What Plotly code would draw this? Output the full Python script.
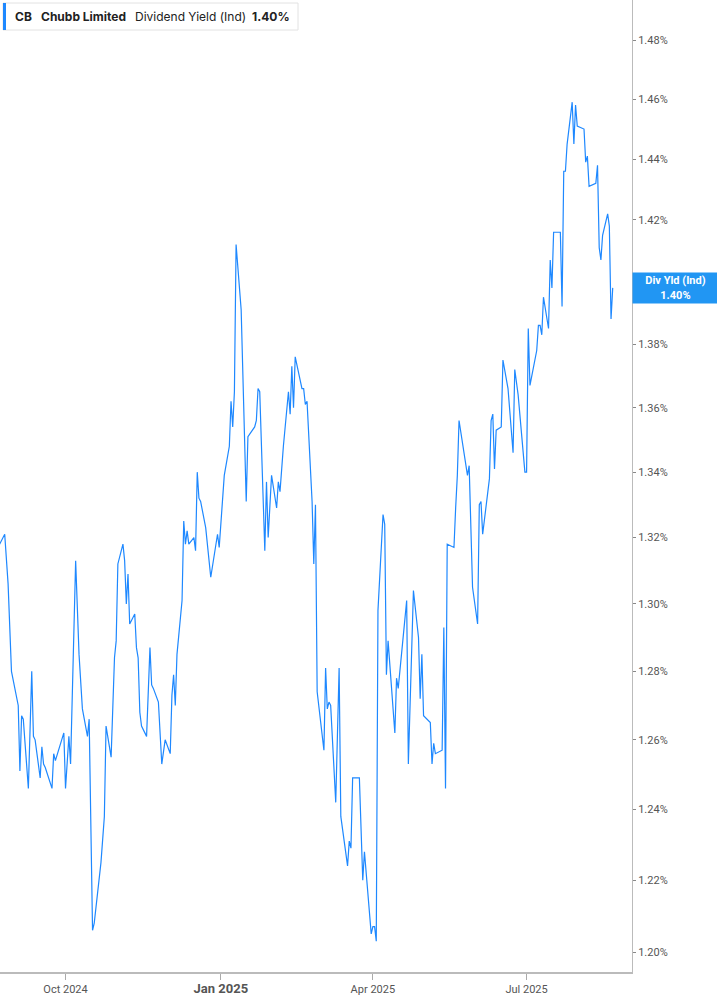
import math
import plotly.graph_objects as go

# Chubb Limited (CB) indicated dividend yield, in percent
dates = [
    "2024-08-22", "2024-08-23", "2024-08-26", "2024-08-28", "2024-08-30", "2024-09-03",
    "2024-09-04", "2024-09-05", "2024-09-06", "2024-09-09", "2024-09-11", "2024-09-12",
    "2024-09-13", "2024-09-16", "2024-09-17", "2024-09-18", "2024-09-19", "2024-09-23",
    "2024-09-24", "2024-09-25", "2024-09-27", "2024-09-30", "2024-10-01", "2024-10-03",
    "2024-10-04", "2024-10-07", "2024-10-09", "2024-10-11", "2024-10-14", "2024-10-15",
    "2024-10-17", "2024-10-18", "2024-10-22", "2024-10-24", "2024-10-25", "2024-10-28",
    "2024-10-30", "2024-10-31", "2024-11-01", "2024-11-04", "2024-11-05", "2024-11-06",
    "2024-11-07", "2024-11-08", "2024-11-11", "2024-11-12", "2024-11-13", "2024-11-14",
    "2024-11-15", "2024-11-18", "2024-11-20", "2024-11-21", "2024-11-22", "2024-11-25",
    "2024-11-27", "2024-11-29", "2024-12-02", "2024-12-03", "2024-12-04", "2024-12-05",
    "2024-12-06", "2024-12-09", "2024-12-10", "2024-12-11", "2024-12-12", "2024-12-13",
    "2024-12-16", "2024-12-17", "2024-12-18", "2024-12-19", "2024-12-20", "2024-12-23",
    "2024-12-26", "2024-12-30", "2024-12-31", "2025-01-02", "2025-01-03", "2025-01-06",
    "2025-01-07", "2025-01-08", "2025-01-09", "2025-01-10", "2025-01-13", "2025-01-16",
    "2025-01-17", "2025-01-21", "2025-01-22", "2025-01-23", "2025-01-24", "2025-01-27",
    "2025-01-28", "2025-01-29", "2025-01-31", "2025-02-03", "2025-02-04", "2025-02-05",
    "2025-02-07", "2025-02-10", "2025-02-11", "2025-02-12", "2025-02-13", "2025-02-14",
    "2025-02-18", "2025-02-19", "2025-02-20", "2025-02-21", "2025-02-24", "2025-02-25",
    "2025-02-26", "2025-02-27", "2025-03-03", "2025-03-04", "2025-03-05", "2025-03-06",
    "2025-03-07", "2025-03-10", "2025-03-12", "2025-03-13", "2025-03-17", "2025-03-18",
    "2025-03-19", "2025-03-20", "2025-03-24", "2025-03-26", "2025-03-27", "2025-03-31",
    "2025-04-01", "2025-04-02", "2025-04-03", "2025-04-04", "2025-04-07", "2025-04-08",
    "2025-04-09", "2025-04-10", "2025-04-14", "2025-04-15", "2025-04-16", "2025-04-21",
    "2025-04-22", "2025-04-25", "2025-04-28", "2025-04-29", "2025-04-30", "2025-05-01",
    "2025-05-05", "2025-05-06", "2025-05-07", "2025-05-08", "2025-05-12", "2025-05-13",
    "2025-05-14", "2025-05-15", "2025-05-19", "2025-05-20", "2025-05-21", "2025-05-22",
    "2025-05-27", "2025-05-28", "2025-05-29", "2025-05-30", "2025-06-02", "2025-06-03",
    "2025-06-04", "2025-06-05", "2025-06-09", "2025-06-10", "2025-06-11", "2025-06-12",
    "2025-06-13", "2025-06-16", "2025-06-17", "2025-06-20", "2025-06-23", "2025-06-24",
    "2025-06-26", "2025-06-30", "2025-07-01", "2025-07-02", "2025-07-03", "2025-07-07",
    "2025-07-08", "2025-07-09", "2025-07-10", "2025-07-11", "2025-07-14", "2025-07-15",
    "2025-07-16", "2025-07-17", "2025-07-21", "2025-07-22", "2025-07-23", "2025-07-24",
    "2025-07-25", "2025-07-28", "2025-07-29", "2025-07-30", "2025-07-31", "2025-08-04",
    "2025-08-05", "2025-08-06", "2025-08-07", "2025-08-11", "2025-08-12", "2025-08-13",
    "2025-08-14", "2025-08-15", "2025-08-18", "2025-08-19", "2025-08-20", "2025-08-21",
]
div_yield = [
    1.317, 1.318, 1.321, 1.306, 1.280, 1.270,
    1.251, 1.267, 1.266, 1.246, 1.280, 1.261,
    1.260, 1.249, 1.258, 1.253, 1.252, 1.246,
    1.256, 1.254, 1.257, 1.262, 1.246, 1.261,
    1.253, 1.313, 1.285, 1.269, 1.261, 1.266,
    1.206, 1.208, 1.225, 1.238, 1.264, 1.255,
    1.284, 1.289, 1.312, 1.318, 1.313, 1.300,
    1.309, 1.294, 1.297, 1.287, 1.284, 1.268,
    1.264, 1.261, 1.287, 1.276, 1.275, 1.271,
    1.253, 1.260, 1.256, 1.273, 1.279, 1.270,
    1.285, 1.301, 1.325, 1.318, 1.322, 1.318,
    1.320, 1.316, 1.340, 1.332, 1.331, 1.323,
    1.308, 1.321, 1.317, 1.334, 1.339, 1.348,
    1.362, 1.354, 1.365, 1.412, 1.391, 1.331,
    1.351, 1.354, 1.356, 1.366, 1.365, 1.316,
    1.337, 1.320, 1.339, 1.329, 1.337, 1.334,
    1.348, 1.365, 1.358, 1.373, 1.360, 1.376,
    1.366, 1.366, 1.361, 1.362, 1.331, 1.312,
    1.330, 1.274, 1.257, 1.281, 1.269, 1.271,
    1.270, 1.242, 1.281, 1.238, 1.224, 1.231,
    1.229, 1.249, 1.249, 1.220, 1.228, 1.205,
    1.207, 1.207, 1.203, 1.298, 1.327, 1.324,
    1.279, 1.289, 1.262, 1.278, 1.275, 1.301,
    1.253, 1.304, 1.290, 1.272, 1.285, 1.267,
    1.265, 1.253, 1.259, 1.256, 1.257, 1.293,
    1.246, 1.318, 1.317, 1.329, 1.339, 1.356,
    1.339, 1.342, 1.320, 1.305, 1.294, 1.330,
    1.331, 1.321, 1.338, 1.356, 1.358, 1.341,
    1.353, 1.354, 1.375, 1.366, 1.346, 1.372,
    1.364, 1.340, 1.340, 1.385, 1.367, 1.378,
    1.386, 1.386, 1.383, 1.395, 1.385, 1.407,
    1.398, 1.416, 1.416, 1.392, 1.436, 1.436,
    1.445, 1.459, 1.445, 1.458, 1.451, 1.450,
    1.439, 1.441, 1.431, 1.432, 1.438, 1.411,
    1.407, 1.415, 1.422, 1.418, 1.388, 1.398,
]

y_ticks = [1.20, 1.22, 1.24, 1.26, 1.28, 1.30, 1.32, 1.34, 1.36, 1.38, 1.40, 1.42, 1.44, 1.46, 1.48]
x_ticks = ["2024-10-01", "2025-01-01", "2025-04-01", "2025-07-01"]
x_labels = ["Oct 2024", "<span style='font-size:13px'><b>Jan 2025</b></span>", "Apr 2025", "Jul 2025"]

blue = "#1e88ff"
grey_text = "#555555"
W, H = 717, 1005
plot_w, plot_h = 632, 972

# the 1.40% tick sits under the last-value tag, so its text is left out
y_labels = ["" if abs(v - 1.40) < 1e-9 else f"{v:.2f}%" for v in y_ticks]

fig = go.Figure()
fig.add_trace(go.Scatter(
    x=dates, y=div_yield, mode="lines",
    line=dict(color=blue, width=1.2),
    hoverinfo="x+y", showlegend=False,
))

fig.update_layout(
    width=W, height=H,
    margin=dict(l=0, r=W - plot_w, t=0, b=H - plot_h),
    paper_bgcolor="white", plot_bgcolor="white",
    font=dict(family="Roboto, Arial, sans-serif", size=11, color=grey_text),
    xaxis=dict(
        type="date",
        range=["2024-08-23 05:00", "2025-09-01 10:00"],
        tickvals=x_ticks, ticktext=x_labels,
        ticks="outside", ticklen=6, tickcolor="#aaaaaa", tickwidth=1,
        showline=True, linecolor="#bbbbbb", linewidth=2,
        showgrid=False, zeroline=False,
        tickfont=dict(size=11, color=grey_text),
    ),
    yaxis=dict(
        type="log", side="right",
        range=[0.077184, 0.174257],
        tickvals=y_ticks, ticktext=y_labels,
        ticks="outside", ticklen=3, tickcolor="#888888",
        showline=True, linecolor="#bbbbbb", linewidth=1,
        showgrid=False, zeroline=False,
        tickfont=dict(size=11, color=grey_text),
    ),
)

# header box in the top-left corner
def px_x(p):
    return p / plot_w

def px_y(p):
    return 1 - p / plot_h

fig.add_shape(type="rect", xref="paper", yref="paper",
              x0=px_x(3), x1=px_x(298), y0=px_y(30), y1=px_y(3),
              line=dict(color="#e2e2e2", width=1), fillcolor="white", layer="above")
fig.add_shape(type="rect", xref="paper", yref="paper",
              x0=px_x(3), x1=px_x(6), y0=px_y(30), y1=px_y(3),
              line=dict(width=0), fillcolor=blue, layer="above")

header = [("<b>CB</b>", 13), ("<b>Chubb Limited</b>", 39),
          ("Dividend Yield (Ind)", 133), ("<b>1.40%</b>", 250)]
for txt, xp in header:
    fig.add_annotation(text=txt, xref="paper", yref="paper", x=px_x(xp), y=px_y(16.5),
                       xanchor="left", yanchor="middle", showarrow=False,
                       font=dict(family="Inter, Roboto, sans-serif", size=12, color="#222222"))

# last-value tag on the right axis
fig.add_annotation(
    text="<b>Div Yld (Ind)</b><br><b>1.40%</b>",
    xref="paper", yref="y", x=1, y=math.log10(div_yield[-1]),
    xanchor="left", yanchor="middle", showarrow=False,
    width=81, height=26, borderpad=2, bgcolor="#2196f3",
    font=dict(family="Roboto, Arial, sans-serif", size=11, color="white"),
)

fig.write_html("out.html", config={"displayModeBar": False},
               post_script="document.body.style.margin='0';")
